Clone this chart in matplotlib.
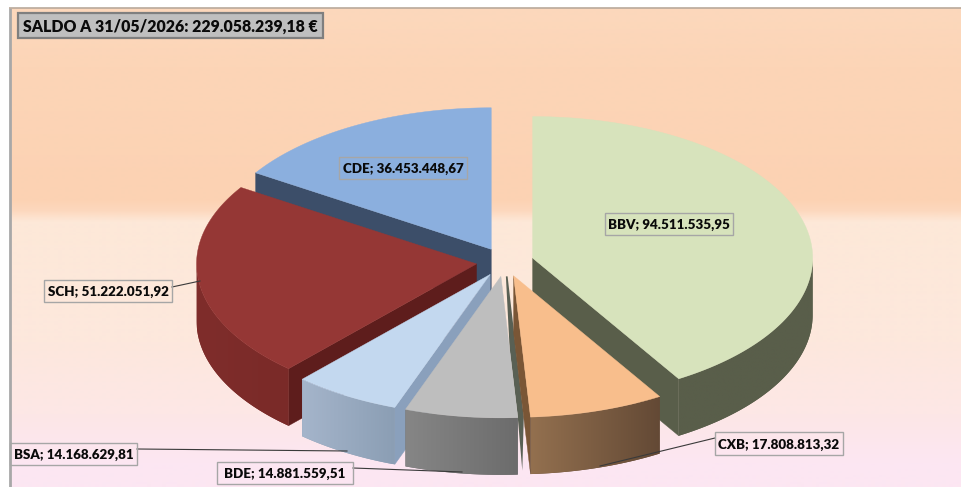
import numpy as np
import matplotlib
matplotlib.use("Agg")
import matplotlib.pyplot as plt
from matplotlib.colors import LinearSegmentedColormap
from matplotlib.patches import Polygon, Rectangle

# ---------- data ----------
categories = ["BBV", "CXB", "BDE", "BSA", "SCH", "CDE"]
values = [94511535.95, 17808813.32, 14881559.51, 14168629.81, 51222051.92, 36453448.67]
value_labels = ["94.511.535,95", "17.808.813,32", "14.881.559,51",
                "14.168.629,81", "51.222.051,92", "36.453.448,67"]
title_text = "SALDO A 31/05/2026: 229.058.239,18 €"

# ---------- style / layout (pixel space of the figure) ----------
W, H = 961, 487
CX, CY = 505.0, 262.0      # pie centre
RX, RY = 280.0, 141.5      # top ellipse
EXPLODE = 28.7             # explosion along the mid-angle
DEPTH = 57.0
top_colors = dict(BBV="#D7E3BC", CXB="#F8BE8C", BDE="#BEBEBE", BSA="#C3D8EF", SCH="#953735", CDE="#8BAFDE")
wall_left = dict(BBV="#595E4A", CXB="#93704F", BDE="#868686", BSA="#A5B5CB", SCH="#7F2D2B", CDE="#3C4E69")
wall_right = dict(BBV="#595E4A", CXB="#634935", BDE="#6C6C6C", BSA="#8B9EB4", SCH="#7A2A28", CDE="#3C4E69")
cut_colors = dict(BBV="#595E4A", CXB="#7A5636", BDE="#6C6C6C", BSA="#8AA0BC", SCH="#5E1D1C", CDE="#3C4E69")
sliver_color = "#596054"   # dark inner face that shows beside BDE in the perspective view
draw_order = ["CDE", "SCH", "BBV", "BSA", "BDE", "CXB"]
label_box = dict(BBV=(605, 213, 733, 235), CXB=(715, 432, 843, 455), BDE=(217, 462, 353, 484),
                 BSA=(10, 443, 137, 465), SCH=(44, 280, 172, 302), CDE=(339, 157, 467, 179))
title_box = (18, 13, 323, 38)
leaders = dict(CXB=((715, 438), (600, 466)), BDE=((353, 468), (462, 472)),
               BSA=((137, 449), (347, 451)), SCH=((172, 287), (200, 281)))

plt.rcParams["font.family"] = ["Lato", "DejaVu Sans"]
fig = plt.figure(figsize=(W / 100, H / 100), dpi=100, facecolor="white")
ax = fig.add_axes([0, 0, 1, 1])
ax.axis("off")

# ---------- panel background ----------
stops = [(0.0, "#FCD8BC"), (0.12, "#FCD5B7"), (0.40, "#FCD2B3"), (0.425, "#FDD9BF"), (0.445, "#FDE8D8"),
         (0.70, "#FDE8DD"), (0.85, "#FDE7E6"), (0.95, "#FCE6F2"), (1.0, "#FCE6F2")]
cmap = LinearSegmentedColormap.from_list("panel", stops)
grad = np.linspace(0, 1, 480)[:, None]
ax.imshow(grad, cmap=cmap, extent=(10, W, H, 8), aspect="auto", zorder=0, interpolation="bilinear")
ax.plot([10, 10], [8, H], color="#A8A8A8", lw=2.0, zorder=1, solid_capstyle="butt")
ax.plot([9, W], [8, 8], color="#B9A99B", lw=1.2, zorder=1, solid_capstyle="butt")

# ---------- pie geometry from the values ----------
vals = np.array(values, dtype=float)
edges = np.concatenate([[0.0], np.cumsum(vals) / vals.sum() * 2 * np.pi])
z = 2


def point(apex, t):
    return apex[0] + RX * np.sin(t), apex[1] - RY * np.cos(t)


for name in draw_order:
    i = categories.index(name)
    a0, a1 = edges[i], edges[i + 1]
    mid = (a0 + a1) / 2
    apex = (CX + EXPLODE * np.sin(mid), CY - EXPLODE * RY / RX * np.cos(mid))

    # radial cut faces that look towards the viewer
    for t, show in ((a0, np.sin(a0) < 0), (a1, np.sin(a1) > 0)):
        if show:
            p = point(apex, t)
            ax.add_patch(Polygon([apex, p, (p[0], p[1] + DEPTH), (apex[0], apex[1] + DEPTH)],
                                 closed=True, fc=cut_colors[name], ec=cut_colors[name], lw=0.3, zorder=z))
            z += 1

    # the perspective makes the start face of the slice at 6 o'clock just visible
    if a0 < np.pi < a1:
        p = point(apex, a0)
        m = (apex[0] + 0.52 * (p[0] - apex[0]), apex[1] + 0.52 * (p[1] - apex[1]))
        ax.add_patch(Polygon([(apex[0] + 5, apex[1]), m, p, (p[0] + 4.5, p[1] + DEPTH - 4),
                              (p[0] + 6, p[1] - 1), (apex[0] + 6.7, apex[1])],
                             closed=True, fc=sliver_color, ec="none", zorder=z))
        z += 1

    # outer wall with a horizontal gradient (only the front half is visible)
    lo, hi = max(a0, np.pi / 2), min(a1, 3 * np.pi / 2)
    if hi > lo:
        ts = np.linspace(lo, hi, 120)
        xs, ys = point(apex, ts)
        outline = np.vstack([np.column_stack([xs, ys]), np.column_stack([xs[::-1], ys[::-1] + DEPTH])])
        wall_cmap = LinearSegmentedColormap.from_list("wall_" + name, [wall_left[name], wall_right[name]])
        # flat-coloured patch gives an anti-aliased rim, the gradient is clipped to it
        ax.add_patch(Polygon(outline, closed=True, fc=wall_right[name], ec="none", zorder=z))
        z += 1
        im = ax.imshow(np.linspace(0, 1, 256)[None, :], cmap=wall_cmap, aspect="auto", zorder=z,
                       extent=(xs.min(), xs.max(), outline[:, 1].max(), outline[:, 1].min()),
                       interpolation="bilinear")
        im.set_clip_path(Polygon(outline, closed=True, transform=ax.transData, fc="none", ec="none"))
        z += 1

    # top face
    ts = np.linspace(a0, a1, 200)
    xs, ys = point(apex, ts)
    ax.add_patch(Polygon(np.vstack([[apex], np.column_stack([xs, ys])]), closed=True,
                         fc=top_colors[name], ec=top_colors[name], lw=0.3, zorder=z))
    z += 1

ax.set_xlim(0, W)
ax.set_ylim(H, 0)

# ---------- leaders and labels ----------
for name, (p0, p1) in leaders.items():
    ax.plot([p0[0], p1[0]], [p0[1], p1[1]], color="#3A3A3A", lw=0.8, zorder=z)
z += 1
for name, val in zip(categories, value_labels):
    x0, y0, x1, y1 = label_box[name]
    ax.add_patch(Rectangle((x0, y0), x1 - x0, y1 - y0, fc="none", ec="#A6A6A6", lw=1.0, zorder=z))
    ax.text((x0 + x1) / 2, (y0 + y1) / 2, f"{name}; {val}", ha="center", va="center_baseline",
            fontsize=9.6, fontweight="heavy", color="#0A0A0A", zorder=z + 1)

x0, y0, x1, y1 = title_box
ax.add_patch(Rectangle((x0, y0), x1 - x0, y1 - y0, fc="#BFBFBF", ec="#7F7F7F", lw=1.6, zorder=z))
ax.text((x0 + x1) / 2, (y0 + y1) / 2, title_text, ha="center", va="center_baseline", fontsize=11.4,
        fontweight="heavy", color="#0A0A0A", zorder=z + 1)

fig.savefig("out.png", dpi=100)
